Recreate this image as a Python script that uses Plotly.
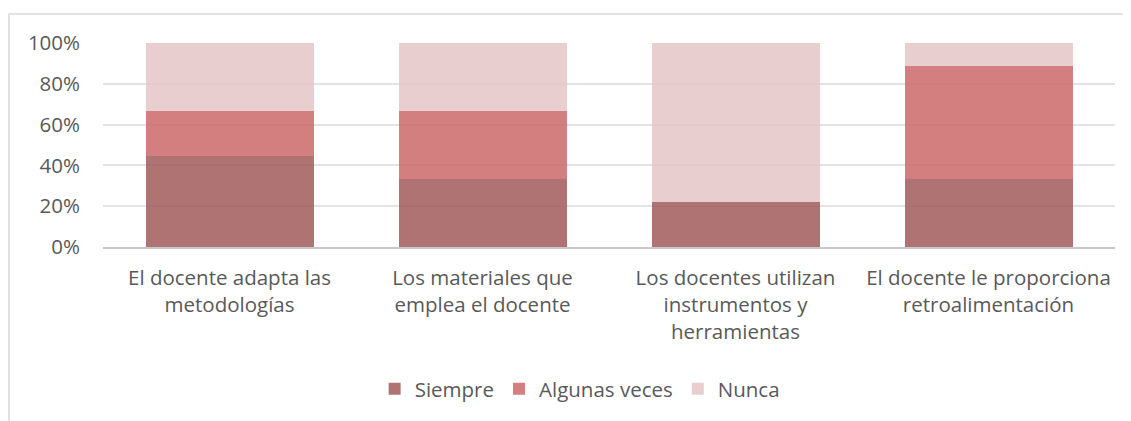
import plotly.graph_objects as go

categories = [
    "El docente adapta las<br>metodologías",
    "Los materiales que<br>emplea el docente",
    "Los docentes utilizan<br>instrumentos y<br>herramientas",
    "El docente le proporciona<br>retroalimentación",
]
siempre = [0.444, 0.333, 0.222, 0.333]
algunas_veces = [0.222, 0.333, 0.0, 0.556]
nunca = [0.334, 0.334, 0.778, 0.111]

series = [
    ("Siempre", siempre, "rgba(162,90,90,0.85)"),
    ("Algunas veces", algunas_veces, "rgba(204,104,104,0.85)"),
    ("Nunca", nunca, "rgba(228,197,199,0.85)"),
]

font_family = "'Open Sans', Lato, sans-serif"
text_col = "#595959"

fig = go.Figure()
for name, vals, col in series:
    fig.add_trace(go.Bar(
        x=categories, y=vals, name=name,
        marker=dict(color=col, line=dict(width=0)),
    ))

# outer chart border
fig.add_shape(type="rect", xref="paper", yref="paper",
              x0=-0.0929, x1=1.03, y0=-0.9, y1=1.142,
              line=dict(color="#d9d9d9", width=1.5), fillcolor="rgba(0,0,0,0)")

# page body has an 8px margin, so margins are shifted to compensate
fig.update_layout(
    barmode="stack",
    bargap=0.336,
    width=1131, height=421,
    margin=dict(l=95, r=24, t=35, b=182),
    plot_bgcolor="white", paper_bgcolor="white",
    font=dict(family=font_family, size=20.5, color=text_col),
    legend=dict(orientation="h", x=0.471, y=-0.696, xanchor="center", yanchor="middle",
                font=dict(size=20.5, color=text_col), traceorder="normal",
                itemwidth=30),
)
fig.update_yaxes(range=[0, 1], dtick=0.2, tickformat=".0%",
                 gridcolor="#e3e3e3", gridwidth=1.5, zeroline=False,
                 showline=False, ticklabelstandoff=22)
fig.update_xaxes(showline=True, linecolor="#c8c8c8", linewidth=1.5,
                 ticks="", ticklabelstandoff=12, tickangle=0)

fig.write_html("out.html")
